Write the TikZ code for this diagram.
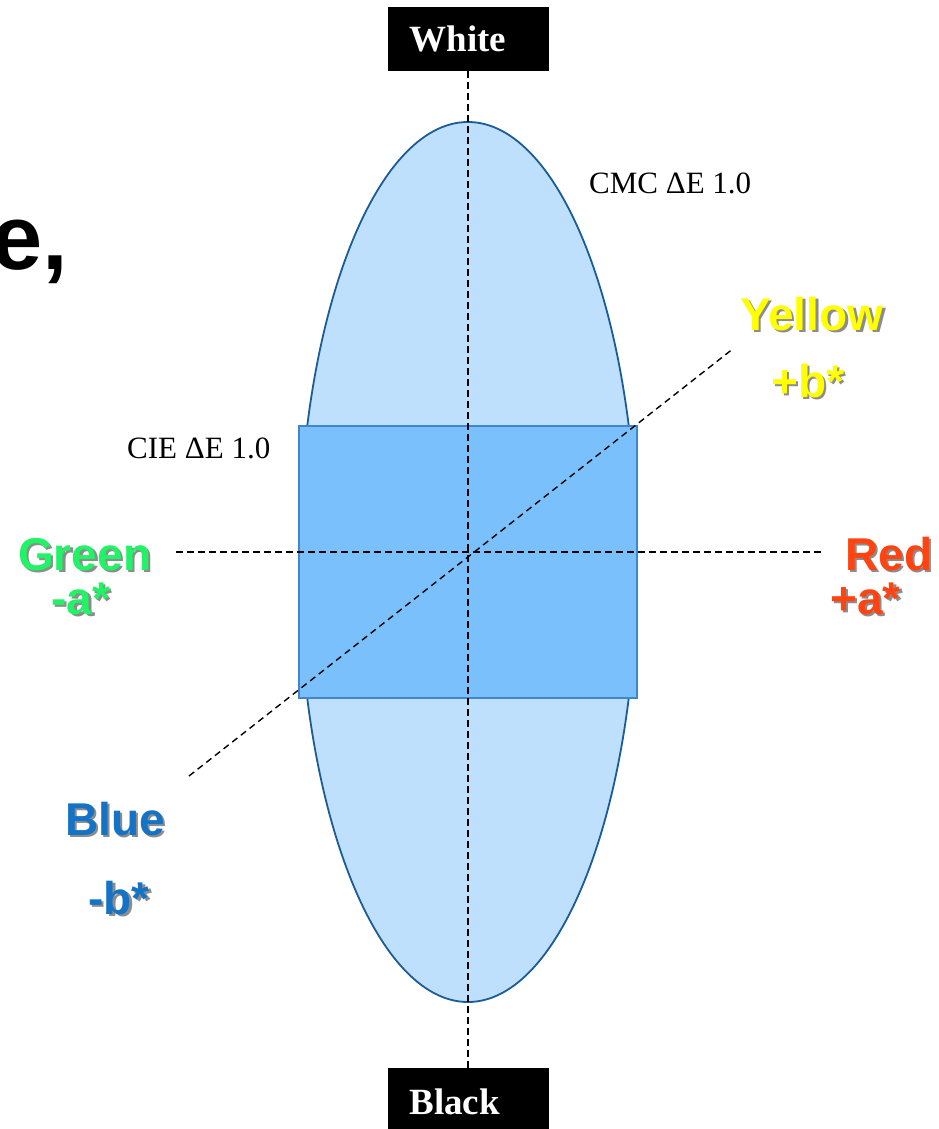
\documentclass[tikz,border=0pt]{standalone}
\usepackage{fontspec}
\setmainfont{Liberation Serif}
\newfontfamily\huefont{Liberation Sans}
\usetikzlibrary{positioning}
\definecolor{cmcfill}{HTML}{BEE0FD}
\definecolor{cmcline}{HTML}{1B5C97}
\definecolor{ciefill}{HTML}{7AC0FC}
\definecolor{cieline}{HTML}{3F86CC}
\definecolor{yellowhue}{HTML}{FFFF00}
\definecolor{greenhue}{HTML}{22F266}
\definecolor{redhue}{HTML}{FF4412}
\definecolor{bluehue}{HTML}{1573C6}
\newcommand{\shadowed}[2]{\makebox[0pt][l]{\hspace{2.5pt}\raisebox{-2.5pt}{\color{black!45}#2}}{\color{#1}#2}}
\tikzset{
    axis line/.style = {draw, line width=1.4pt, dash pattern=on 6.5pt off 4.5pt},
    cmc zone/.style = {draw=cmcline, fill=cmcfill, line width=1.8pt},
    cie zone/.style = {draw=cieline, fill=ciefill, line width=1.6pt},
}
\tikzset{
    end box/.style = {fill=black, text=white, font=\bfseries\fontsize{37}{37}\selectfont,
        minimum width=161pt, minimum height=64pt, text width=117pt, inner xsep=22pt, align=left},
    hue label/.style = {inner sep=0pt, anchor=base west, font=\huefont\bfseries\fontsize{46}{46}\selectfont},
    tol label/.style = {inner sep=0pt, anchor=base west, font=\fontsize{31}{31}\selectfont},
}

\begin{document}
\begin{tikzpicture}[x=1pt, y=-1pt]
        \useasboundingbox (0,0) rectangle (939,1129);

        \draw[cmc zone] (468,562) ellipse [x radius=169pt, y radius=440pt];
        \draw[cie zone] (299,426) rectangle (637,698);

        \node[end box] (White) at (468,39) {White};
        \node[end box, minimum height=68pt] (Black) at (468,1102) {Black};

        \coordinate (GreenEnd) at (176,552);
        \coordinate (RedEnd) at (824,552);
        \coordinate (BlueEnd) at (189,776);
        \coordinate (YellowEnd) at (734,348);

        \draw[axis line] (White.south) -- (Black.north);
        \draw[axis line] (GreenEnd) -- (RedEnd);
        \draw[axis line] (BlueEnd) -- (YellowEnd);

        \node[tol label] (CMC) at (589,193) {CMC ΔE 1.0};
        \node[tol label] (CIE) at (127,458) {CIE ΔE 1.0};

        \node[inner sep=0pt, anchor=base west, font=\huefont\bfseries\fontsize{92}{92}\selectfont] (eComma) at (-9,269) {e,};

        \node[hue label] (Yellow) at (740,330) {\shadowed{yellowhue}{Yellow}};
        \node[hue label] (plusB) at (771,397) {\shadowed{yellowhue}{+b*}};
        \node[hue label] (Green) at (18,570) {\shadowed{greenhue}{Green}};
        \node[hue label] (minusA) at (51,614) {\shadowed{greenhue}{-a*}};
        \node[hue label] (Red) at (845,570) {\shadowed{redhue}{Red}};
        \node[hue label] (plusA) at (830,614) {\shadowed{redhue}{+a*}};
        \node[hue label] (Blue) at (65,835) {\shadowed{bluehue}{Blue}};
        \node[hue label] (minusB) at (88,914) {\shadowed{bluehue}{-b*}};
\end{tikzpicture}
\end{document}
